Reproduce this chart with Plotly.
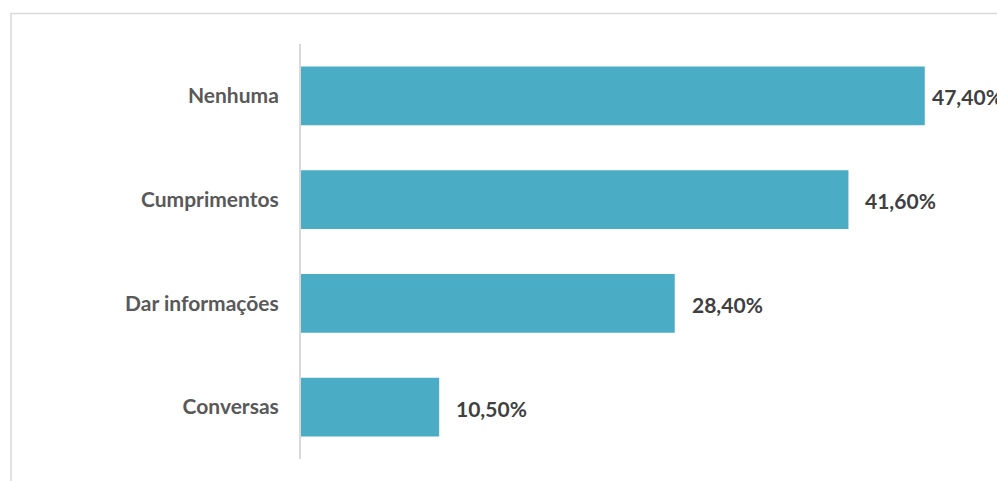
import plotly.graph_objects as go

# Survey answers (bottom to top as drawn on the category axis)
categories = ["Conversas", "Dar informações", "Cumprimentos", "Nenhuma"]
values = [10.5, 28.4, 41.6, 47.4]
value_labels = ["10,50%", "28,40%", "41,60%", "47,40%"]

BAR_COLOR = "#4BACC6"
FONT = "Lato, Calibri, Carlito, sans-serif"

fig = go.Figure(
    go.Bar(
        x=values,
        y=categories,
        orientation="h",
        marker=dict(color=BAR_COLOR, line=dict(width=0)),
        width=0.567,
        hoverinfo="skip",
    )
)

# Value labels placed just past the end of each bar; the longest one is
# pulled in closer so it stays mostly inside the chart area
for cat, val, lab in zip(categories, values, value_labels):
    shift = 5 if val == max(values) else 15
    fig.add_annotation(
        x=val, y=cat, text=f"<b>{lab}</b>", showarrow=False,
        xanchor="left", yanchor="middle", xshift=shift, yshift=-1,
        font=dict(family=FONT, size=21, color="#404040"),
    )

# Light grey chart-area border
fig.add_shape(
    type="rect", xref="paper", yref="paper",
    x0=-0.4407, x1=1.2, y0=-0.2, y1=1.0733,
    line=dict(color="#D9D9D9", width=1.5), fillcolor="rgba(0,0,0,0)",
    layer="below",
)

fig.update_layout(
    width=997, height=481,
    margin=dict(l=301, r=38, t=43.5, b=21.5),
    paper_bgcolor="white", plot_bgcolor="white",
    showlegend=False,
    xaxis=dict(range=[0, 50], visible=False, fixedrange=True),
    yaxis=dict(
        categoryorder="array", categoryarray=categories,
        showline=True, linecolor="#D9D9D9", linewidth=2,
        showgrid=False, zeroline=False, ticks="",
        ticklabelstandoff=16,
        tickfont=dict(family=FONT, size=21, color="#595959", weight="bold"),
        fixedrange=True,
    ),
)

fig.write_html("out.html")
